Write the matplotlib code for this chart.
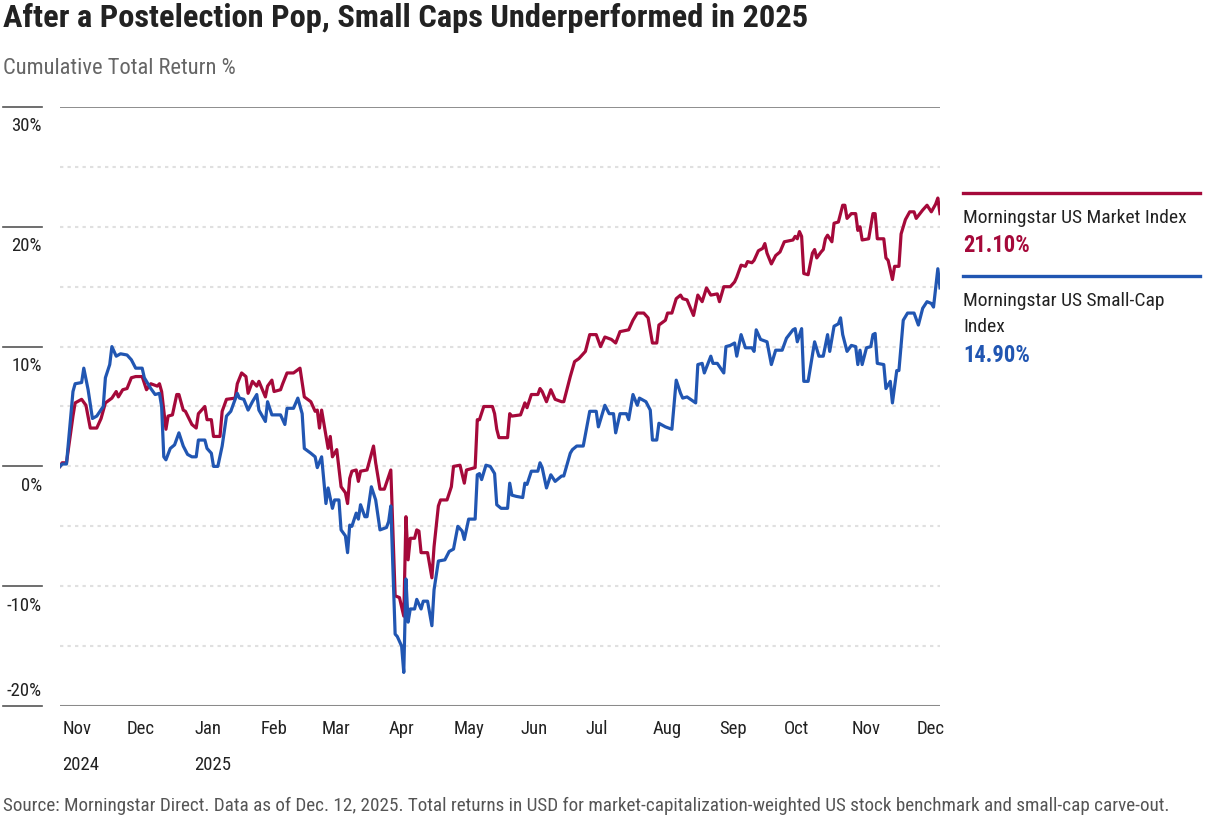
import matplotlib
matplotlib.use("Agg")
import matplotlib.pyplot as plt
import matplotlib.dates as mdates
import matplotlib.transforms as mtransforms
from matplotlib import font_manager
import pandas as pd


# ---- data (cumulative total return, %) ----
market_dates = [
    "2024-10-31", "2024-11-01", "2024-11-03", "2024-11-06", "2024-11-07", "2024-11-10", "2024-11-12", "2024-11-14", "2024-11-17", "2024-11-19",
    "2024-11-21", "2024-11-24", "2024-11-26", "2024-11-27", "2024-11-29", "2024-12-01", "2024-12-03", "2024-12-05", "2024-12-08", "2024-12-10",
    "2024-12-12", "2024-12-15", "2024-12-16", "2024-12-17", "2024-12-19", "2024-12-20", "2024-12-22", "2024-12-24", "2024-12-25", "2024-12-27",
    "2024-12-28", "2024-12-31", "2025-01-02", "2025-01-03", "2025-01-06", "2025-01-07", "2025-01-09", "2025-01-10", "2025-01-13", "2025-01-14",
    "2025-01-16", "2025-01-20", "2025-01-21", "2025-01-23", "2025-01-25", "2025-01-26", "2025-01-28", "2025-01-30", "2025-01-31", "2025-02-03",
    "2025-02-04", "2025-02-06", "2025-02-07", "2025-02-10", "2025-02-11", "2025-02-13", "2025-02-16", "2025-02-19", "2025-02-21", "2025-02-24",
    "2025-02-26", "2025-02-27", "2025-02-28", "2025-03-01", "2025-03-04", "2025-03-05", "2025-03-06", "2025-03-08", "2025-03-10", "2025-03-12",
    "2025-03-13", "2025-03-14", "2025-03-15", "2025-03-17", "2025-03-18", "2025-03-19", "2025-03-22", "2025-03-25", "2025-03-26", "2025-03-28",
    "2025-03-30", "2025-04-02", "2025-04-04", "2025-04-06", "2025-04-08", "2025-04-09", "2025-04-10", "2025-04-11", "2025-04-13", "2025-04-14",
    "2025-04-15", "2025-04-16", "2025-04-19", "2025-04-21", "2025-04-22", "2025-04-24", "2025-04-25", "2025-04-28", "2025-04-30", "2025-05-01",
    "2025-05-04", "2025-05-06", "2025-05-07", "2025-05-11", "2025-05-12", "2025-05-13", "2025-05-15", "2025-05-19", "2025-05-20", "2025-05-21",
    "2025-05-22", "2025-05-26", "2025-05-27", "2025-05-28", "2025-06-01", "2025-06-03", "2025-06-04", "2025-06-06", "2025-06-09", "2025-06-10",
    "2025-06-11", "2025-06-13", "2025-06-15", "2025-06-17", "2025-06-20", "2025-06-21", "2025-06-24", "2025-06-26", "2025-06-28", "2025-07-01",
    "2025-07-03", "2025-07-06", "2025-07-08", "2025-07-10", "2025-07-13", "2025-07-15", "2025-07-17", "2025-07-21", "2025-07-23", "2025-07-25",
    "2025-07-28", "2025-07-30", "2025-08-01", "2025-08-03", "2025-08-04", "2025-08-07", "2025-08-08", "2025-08-10", "2025-08-12", "2025-08-14",
    "2025-08-15", "2025-08-17", "2025-08-20", "2025-08-22", "2025-08-24", "2025-08-26", "2025-08-28", "2025-08-31", "2025-09-01", "2025-09-03",
    "2025-09-06", "2025-09-08", "2025-09-09", "2025-09-11", "2025-09-13", "2025-09-14", "2025-09-16", "2025-09-17", "2025-09-19", "2025-09-21",
    "2025-09-22", "2025-09-23", "2025-09-25", "2025-09-27", "2025-09-29", "2025-10-01", "2025-10-05", "2025-10-06", "2025-10-07", "2025-10-08",
    "2025-10-09", "2025-10-10", "2025-10-12", "2025-10-14", "2025-10-15", "2025-10-16", "2025-10-18", "2025-10-19", "2025-10-20", "2025-10-21",
    "2025-10-23", "2025-10-24", "2025-10-26", "2025-10-28", "2025-10-29", "2025-10-30", "2025-11-01", "2025-11-03", "2025-11-04", "2025-11-05",
    "2025-11-06", "2025-11-09", "2025-11-11", "2025-11-12", "2025-11-13", "2025-11-16", "2025-11-17", "2025-11-18", "2025-11-20", "2025-11-21",
    "2025-11-23", "2025-11-24", "2025-11-26", "2025-11-28", "2025-11-30", "2025-12-01", "2025-12-04", "2025-12-06", "2025-12-08", "2025-12-10",
    "2025-12-11", "2025-12-12",
]
market_values = [
    0.0, 0.3, 0.3, 4.2, 5.3, 5.6, 5.1, 3.2, 3.2, 4.0,
    5.3, 5.7, 6.25, 5.8, 6.4, 6.5, 7.4, 7.5, 7.5, 6.4,
    6.9, 6.7, 6.9, 6.25, 3.1, 4.2, 4.3, 6.0, 6.0, 4.7,
    4.6, 3.5, 3.2, 4.4, 5.0, 3.9, 3.9, 2.5, 2.5, 4.6,
    5.6, 5.7, 6.9, 7.8, 7.5, 6.1, 7.1, 6.7, 7.1, 5.8,
    6.7, 7.2, 6.25, 6.4, 6.9, 7.8, 7.8, 8.2, 5.8, 5.4,
    4.6, 4.7, 3.2, 4.7, 1.5, 2.5, 0.8, 1.4, -1.7, -2.2,
    -3.1, -1.0, -0.4, -0.3, -1.25, -0.4, -0.3, 1.7, 0.3, -1.9,
    -1.9, -0.3, -10.8, -10.95, -12.5, -4.2, -7.8, -6.0, -6.0, -5.3,
    -5.4, -7.2, -7.2, -9.3, -6.7, -3.3, -2.8, -2.8, -1.7, 0.0,
    0.1, -1.4, -0.3, -0.1, 3.9, 3.9, 5.0, 5.0, 4.4, 3.1,
    2.4, 2.4, 4.4, 4.2, 4.3, 5.3, 4.9, 6.0, 6.0, 6.5,
    6.25, 5.4, 6.4, 5.6, 5.4, 5.4, 7.5, 8.75, 9.0, 9.6,
    11.0, 11.0, 10.0, 10.8, 10.6, 10.3, 11.25, 11.4, 12.2, 12.8,
    12.8, 12.4, 10.3, 10.3, 11.8, 12.2, 12.8, 12.8, 14.0, 14.3,
    14.0, 13.9, 12.6, 14.3, 13.75, 14.9, 14.3, 14.4, 13.75, 15.0,
    15.0, 15.4, 15.8, 16.8, 16.7, 17.1, 17.0, 17.2, 18.0, 18.2,
    18.6, 17.8, 16.9, 17.6, 17.9, 18.75, 18.9, 19.2, 19.0, 19.6,
    19.2, 16.1, 16.0, 17.8, 18.1, 17.4, 17.9, 18.1, 19.0, 19.3,
    18.75, 20.3, 20.4, 21.8, 21.8, 20.7, 21.1, 21.1, 19.7, 20.0,
    18.9, 19.0, 21.1, 21.1, 19.0, 19.0, 17.4, 17.2, 15.6, 16.7,
    16.7, 19.4, 20.6, 21.25, 21.25, 20.7, 21.4, 21.8, 21.25, 21.9,
    22.4, 21.1,
]

smallcap_dates = [
    "2024-10-31", "2024-11-01", "2024-11-03", "2024-11-06", "2024-11-07", "2024-11-10", "2024-11-11", "2024-11-13", "2024-11-15", "2024-11-17",
    "2024-11-20", "2024-11-21", "2024-11-23", "2024-11-24", "2024-11-26", "2024-11-28", "2024-12-01", "2024-12-03", "2024-12-05", "2024-12-08",
    "2024-12-09", "2024-12-10", "2024-12-12", "2024-12-14", "2024-12-16", "2024-12-17", "2024-12-18", "2024-12-19", "2024-12-21", "2024-12-23",
    "2024-12-25", "2024-12-27", "2024-12-29", "2024-12-31", "2025-01-02", "2025-01-03", "2025-01-06", "2025-01-07", "2025-01-09", "2025-01-10",
    "2025-01-12", "2025-01-14", "2025-01-16", "2025-01-18", "2025-01-21", "2025-01-22", "2025-01-24", "2025-01-26", "2025-01-28", "2025-01-30",
    "2025-01-31", "2025-02-03", "2025-02-04", "2025-02-06", "2025-02-10", "2025-02-12", "2025-02-13", "2025-02-16", "2025-02-18", "2025-02-20",
    "2025-02-21", "2025-02-24", "2025-02-26", "2025-02-27", "2025-03-01", "2025-03-03", "2025-03-04", "2025-03-06", "2025-03-07", "2025-03-09",
    "2025-03-10", "2025-03-12", "2025-03-13", "2025-03-14", "2025-03-15", "2025-03-17", "2025-03-18", "2025-03-19", "2025-03-21", "2025-03-22",
    "2025-03-24", "2025-03-26", "2025-03-28", "2025-03-31", "2025-04-01", "2025-04-02", "2025-04-04", "2025-04-05", "2025-04-07", "2025-04-08",
    "2025-04-09", "2025-04-10", "2025-04-11", "2025-04-13", "2025-04-14", "2025-04-16", "2025-04-17", "2025-04-19", "2025-04-21", "2025-04-22",
    "2025-04-24", "2025-04-27", "2025-04-29", "2025-05-01", "2025-05-03", "2025-05-05", "2025-05-06", "2025-05-08", "2025-05-11", "2025-05-12",
    "2025-05-13", "2025-05-14", "2025-05-16", "2025-05-18", "2025-05-20", "2025-05-21", "2025-05-23", "2025-05-26", "2025-05-27", "2025-05-28",
    "2025-05-30", "2025-06-02", "2025-06-03", "2025-06-04", "2025-06-06", "2025-06-09", "2025-06-10", "2025-06-11", "2025-06-13", "2025-06-15",
    "2025-06-17", "2025-06-20", "2025-06-21", "2025-06-24", "2025-06-25", "2025-06-27", "2025-06-30", "2025-07-03", "2025-07-06", "2025-07-07",
    "2025-07-10", "2025-07-12", "2025-07-14", "2025-07-15", "2025-07-17", "2025-07-20", "2025-07-21", "2025-07-23", "2025-07-25", "2025-07-26",
    "2025-07-29", "2025-07-31", "2025-08-01", "2025-08-03", "2025-08-04", "2025-08-07", "2025-08-10", "2025-08-12", "2025-08-14", "2025-08-15",
    "2025-08-17", "2025-08-21", "2025-08-22", "2025-08-24", "2025-08-25", "2025-08-28", "2025-08-29", "2025-08-31", "2025-09-03", "2025-09-04",
    "2025-09-06", "2025-09-08", "2025-09-09", "2025-09-11", "2025-09-13", "2025-09-16", "2025-09-17", "2025-09-18", "2025-09-20", "2025-09-23",
    "2025-09-25", "2025-09-27", "2025-09-30", "2025-10-02", "2025-10-05", "2025-10-06", "2025-10-07", "2025-10-09", "2025-10-10", "2025-10-12",
    "2025-10-14", "2025-10-15", "2025-10-17", "2025-10-19", "2025-10-21", "2025-10-22", "2025-10-24", "2025-10-26", "2025-10-27", "2025-10-28",
    "2025-10-30", "2025-11-01", "2025-11-03", "2025-11-04", "2025-11-05", "2025-11-06", "2025-11-08", "2025-11-10", "2025-11-11", "2025-11-12",
    "2025-11-13", "2025-11-16", "2025-11-17", "2025-11-19", "2025-11-20", "2025-11-22", "2025-11-23", "2025-11-25", "2025-11-27", "2025-11-30",
    "2025-12-02", "2025-12-04", "2025-12-06", "2025-12-08", "2025-12-09", "2025-12-11", "2025-12-12",
]
smallcap_values = [
    0.0, 0.2, 0.2, 6.25, 6.9, 7.0, 8.2, 6.4, 4.0, 4.2,
    5.0, 7.4, 8.5, 10.0, 9.2, 9.4, 9.3, 8.9, 8.2, 8.2,
    7.4, 7.1, 6.5, 6.0, 6.1, 5.0, 0.8, 0.55, 1.5, 1.8,
    2.8, 1.7, 1.0, 0.8, 0.8, 2.2, 2.2, 1.5, 1.1, 0.0,
    0.0, 1.7, 4.2, 4.6, 6.1, 5.7, 5.6, 4.7, 5.4, 6.0,
    4.7, 3.75, 5.4, 4.3, 4.3, 3.5, 4.85, 4.85, 5.7, 4.4,
    1.5, 1.1, 0.8, -0.1, 0.8, -3.1, -1.8, -3.5, -2.8, -2.8,
    -5.3, -5.8, -7.2, -4.9, -5.0, -3.9, -4.4, -3.2, -4.2, -4.2,
    -1.7, -2.8, -5.3, -5.1, -4.6, -3.3, -14.0, -14.2, -15.0, -17.2,
    -9.4, -13.0, -11.9, -11.9, -11.1, -11.9, -11.25, -11.25, -13.3, -10.3,
    -7.9, -7.8, -7.1, -6.9, -5.0, -5.4, -6.1, -4.4, -4.4, -0.7,
    -0.6, -1.1, 0.1, 0.0, -0.6, -3.2, -3.5, -3.5, -1.4, -2.4,
    -2.5, -2.6, -1.4, -1.5, -0.4, -0.4, 0.3, -0.1, -1.8, -0.7,
    -1.25, -0.8, -0.8, 1.1, 1.4, 1.7, 1.7, 4.6, 4.6, 3.3,
    5.1, 4.4, 4.4, 2.8, 4.4, 4.4, 3.9, 6.0, 5.1, 5.7,
    5.4, 4.7, 2.2, 2.2, 3.6, 3.3, 3.1, 7.2, 6.1, 5.7,
    5.8, 5.3, 8.5, 8.6, 7.8, 9.2, 8.6, 8.6, 7.8, 10.0,
    10.1, 10.3, 9.2, 11.0, 9.9, 9.9, 9.6, 11.4, 10.6, 10.4,
    8.5, 9.7, 9.7, 10.7, 11.4, 11.5, 10.4, 11.5, 7.1, 7.1,
    9.3, 10.4, 9.2, 9.2, 11.0, 9.6, 11.7, 11.9, 12.4, 11.0,
    9.6, 10.1, 10.0, 8.5, 9.7, 8.5, 9.9, 10.0, 11.0, 11.1,
    8.6, 8.5, 6.5, 7.1, 5.3, 8.0, 8.0, 12.2, 12.8, 12.8,
    11.8, 13.2, 13.75, 13.6, 13.3, 16.5, 14.9,
]

series_names = ["Morningstar US Market Index", "Morningstar US Small-Cap\nIndex"]
series_last = ["21.10%", "14.90%"]
y_ticks = [-20, -10, 0, 10, 20, 30]
year_ticks = ["2024-11-01", "2025-01-01"]
year_labels = ["2024", "2025"]

title = "After a Postelection Pop, Small Caps Underperformed in 2025"
subtitle = "Cumulative Total Return %"
source = ("Source: Morningstar Direct. Data as of Dec. 12, 2025. Total returns in USD for "
          "market-capitalization-weighted US stock benchmark and small-cap carve-out.")

RED = "#A5093A"
BLUE = "#2156B2"
INK = "#222222"
GREY = "#666666"

# condensed sans like the original, fall back if missing
names = {f.name for f in font_manager.fontManager.ttflist}
cands = ["Roboto Condensed", "Liberation Sans Narrow", "Roboto", "DejaVu Sans"]
font = next(c for c in cands if c in names)
plt.rcParams["font.family"] = [font, "DejaVu Sans"]

fig = plt.figure(figsize=(12.21, 8.22), dpi=100)
ax = fig.add_axes([60 / 1221, 1 - 706 / 822, 880 / 1221, 599 / 822])

m_dates = pd.to_datetime(market_dates)
s_dates = pd.to_datetime(smallcap_dates)

# grid: dotted every 5%, solid at top and bottom
for v in range(-15, 30, 5):
    ax.axhline(v, color="#e0e0e0", lw=1.5, ls=(0, (1.6, 2.0)), zorder=0)
ax.axhline(30, color="#7a7a7a", lw=1.2, zorder=1)
ax.axhline(-20, color="#8a8a8a", lw=2.2, zorder=1)

ax.plot(m_dates, market_values, color=RED, lw=2.3, solid_joinstyle="round", zorder=3)
ax.plot(s_dates, smallcap_values, color=BLUE, lw=2.3, solid_joinstyle="round", zorder=3)

ax.set_xlim(min(m_dates[0], s_dates[0]), max(m_dates[-1], s_dates[-1]))
ax.set_ylim(-20, 30)
for s in ax.spines.values():
    s.set_visible(False)
ax.set_yticks([])

ax.xaxis.set_major_locator(mdates.MonthLocator())
ax.xaxis.set_major_formatter(mdates.DateFormatter("%b"))
ax.tick_params(axis="x", length=0, pad=10, labelsize=13.5, labelcolor=INK)
for lab in ax.get_xticklabels():
    lab.set_ha("left")

for d, lab in zip(pd.to_datetime(year_ticks), year_labels):
    ax.annotate(lab, xy=(d, 0), xycoords=("data", "axes fraction"),
                xytext=(0, -42.5), textcoords="offset points",
                ha="left", va="center", fontsize=13.5, color=INK)

# y labels sit under short rules in the left margin (last one above its rule)
ytrans = mtransforms.blended_transform_factory(fig.transFigure, ax.transData)
for v in y_ticks:
    ax.plot([3 / 1221, 42 / 1221], [v, v], transform=ytrans, color="#555555",
            lw=1.2, clip_on=False)
    if v == y_ticks[0]:
        off, va = (0, 4), "bottom"
    else:
        off, va = (0, -7.5), "top"
    ax.annotate(f"{v}%", xy=(42 / 1221, v), xycoords=ytrans, xytext=off,
                textcoords="offset points", ha="right", va=va,
                fontsize=13.5, color=INK)

# right-hand labels
lx0, lx1 = 963 / 1221, 1200 / 1221
fig.add_artist(plt.Line2D([lx0, lx1], [1 - 193 / 822] * 2, color=RED, lw=2.4))
fig.text(lx0, 1 - 218 / 822, series_names[0], ha="left", va="center", fontsize=14, color=INK)
fig.text(lx0, 1 - 246 / 822, series_last[0], ha="left", va="center", fontsize=16.3,
         fontweight="bold", color=RED)
fig.add_artist(plt.Line2D([lx0, lx1], [1 - 276 / 822] * 2, color=BLUE, lw=2.4))
fig.text(lx0, 1 - 314 / 822, series_names[1], ha="left", va="center", fontsize=14,
         color=INK, linespacing=1.55)
fig.text(lx0, 1 - 355 / 822, series_last[1], ha="left", va="center", fontsize=16.3,
         fontweight="bold", color=BLUE)

fig.text(3 / 1221, 1 - 18 / 822, title, ha="left", va="center", fontsize=23.4,
         fontweight="bold", color=INK)
fig.text(3 / 1221, 1 - 68 / 822, subtitle, ha="left", va="center", fontsize=16.2, color=GREY)
fig.text(3 / 1221, 1 - 806 / 822, source, ha="left", va="center", fontsize=13.8, color="#555555")

fig.savefig("out.png", dpi=100, facecolor="white")
